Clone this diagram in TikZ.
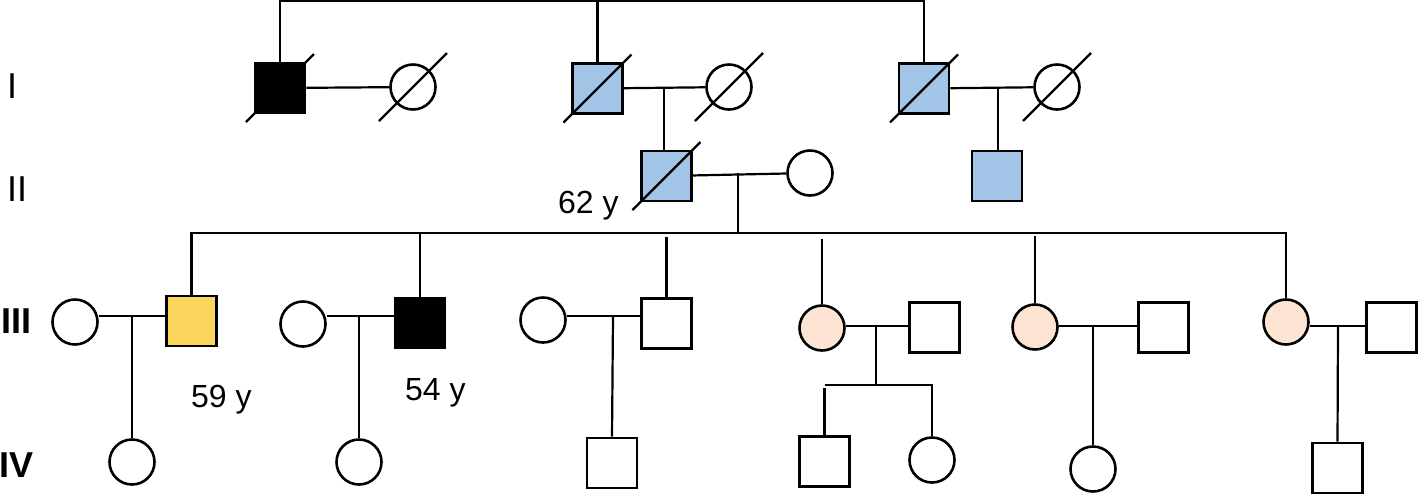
\documentclass[tikz,border=0pt]{standalone}
\usepackage{fontspec}
\setmainfont{Liberation Sans}
\usetikzlibrary{positioning}

\definecolor{affblue}{HTML}{A2C4E6}
\definecolor{affyellow}{HTML}{FBD55E}
\definecolor{affpink}{HTML}{FDE3D2}

\tikzset{
  male/.style={draw, rectangle, minimum size=25pt, inner sep=0pt, line width=1.3pt},
  female/.style={draw, circle, minimum size=22.5pt, inner sep=0pt, line width=1.3pt},
  slash/.style={line width=1.2pt},
  gen/.style={anchor=base west, inner sep=0pt, font=\fontsize{18pt}{18pt}\selectfont},
  age/.style={anchor=base west, inner sep=0pt, font=\fontsize{16pt}{16pt}\selectfont},
}
\newcommand{\deceased}[1]{\draw[slash] ([shift={(-34,34)}]#1.center) -- ([shift={(34,-34)}]#1.center);}

\begin{document}
\begin{tikzpicture}[x=0.5pt, y=-0.5pt, line width=1.1pt]

    \useasboundingbox (0,0) rectangle (1418,495);

    % Define nodes
    % generation I
    \node[male, fill=black]      (i1) at (280,88) {};
    \node[female]                (i2) at (413,87) {};
    \node[male, fill=affblue]    (i3) at (597.5,88.5) {};
    \node[female]                (i4) at (729,87) {};
    \node[male, fill=affblue]    (i5) at (924,88.5) {};
    \node[female]                (i6) at (1057,87) {};
    % generation II
    \node[male, fill=affblue]    (ii1) at (666.5,176) {};
    \node[female]                (ii2) at (810,173) {};
    \node[male, fill=affblue]    (ii3) at (997,176) {};
    % generation III
    \node[female]                (iii1) at (75,322) {};
    \node[male, fill=affyellow]  (iii2) at (191.5,321) {};
    \node[female]                (iii3) at (303,324) {};
    \node[male, fill=black]      (iii4) at (420,323) {};
    \node[female]                (iii5) at (543,320) {};
    \node[male]                  (iii6) at (666.5,323.5) {};
    \node[female, fill=affpink]  (iii7) at (822,328) {};
    \node[male]                  (iii8) at (934.5,327.5) {};
    \node[female, fill=affpink]  (iii9) at (1035,327) {};
    \node[male]                  (iii10) at (1163.5,327.5) {};
    \node[female, fill=affpink]  (iii11) at (1286,322) {};
    \node[male]                  (iii12) at (1391.5,327.5) {};
    % generation IV
    \node[female]                (iv1) at (132,462) {};
    \node[female]                (iv2) at (359,462) {};
    \node[male]                  (iv3) at (612,463) {};
    \node[male]                  (iv4) at (824.5,461.5) {};
    \node[female]                (iv5) at (932,460) {};
    \node[female]                (iv6) at (1093,469) {};
    \node[male]                  (iv7) at (1337.5,468) {};

    % Labels
    \node[gen] (gI)   at (6,98)    {I};
    \node[gen] (gII)  at (6,201)   {II};
    \node[gen] (gIII) at (0.5,333) {\bfseries III};
    \node[gen] (gIV)  at (-2,477)  {\bfseries IV};
    \node[age] (a62)  at (557,213) {62 y};
    \node[age] (a59)  at (190,407) {59 y};
    \node[age] (a54)  at (404,400) {54 y};

    % Marriage and sibship points
    \coordinate (top) at (598,1);
    \coordinate (m1)  at (664,88);
    \coordinate (m2)  at (998,88);
    \coordinate (m3)  at (738,173);
    \coordinate (sib) at (738,233);
    \coordinate (m4)  at (132,316);
    \coordinate (m5)  at (359,316);
    \coordinate (m6)  at (613,316);
    \coordinate (m7)  at (876,326);
    \coordinate (k7)  at (876,385);
    \coordinate (m8)  at (1093,326);
    \coordinate (m9)  at (1338,326);

    % Connect the nodes
    \draw (i1.north) |- (top) -| (i5.north);
    \draw (i3.north) -- (i3.north |- top);
    \draw (i1) -- (i2);
    \draw (i3) -- (i4);
    \draw (m1) -- (m1 |- ii1.north);
    \draw (i5) -- (i6);
    \draw (m2) -- (m2 |- ii3.north);
    \draw (ii1) -- (ii2);
    \draw (m3) -- (sib);
    \draw (iii2.north) |- (sib) -| (iii11.north);
    \draw (iii4.north) -- (iii4.north |- sib);
    \draw (iii6.north) -- ++(0,-60);
    \draw (iii7.north) -- ++(0,-65);
    \draw (iii9.north) -- ++(0,-67);
    \draw (iii1.east |- m4) -- (iii2.west |- m4);
    \draw (m4) -- (iv1.north);
    \draw (iii3.east |- m5) -- (iii4.west |- m5);
    \draw (m5) -- (iv2.north);
    \draw (iii5.east |- m6) -- (iii6.west |- m6);
    \draw (m6) -- (iv3.north);
    \draw (iii7.east |- m7) -- (iii8.west |- m7);
    \draw (m7) -- (k7);
    \draw (iv4.north |- k7) -- (iv5.north |- k7) -- (iv5.north);
    \draw (iv4.north) -- ++(0,-47);
    \draw (iii9.east |- m8) -- (iii10.west |- m8);
    \draw (m8) -- (iv6.north);
    \draw (iii11.east |- m9) -- (iii12.west |- m9);
    \draw (m9) -- (iv7.north);

    % Deceased
    \deceased{i1}
    \deceased{i2}
    \deceased{i3}
    \deceased{i4}
    \deceased{i5}
    \deceased{i6}
    \deceased{ii1}
  \end{tikzpicture}
\end{document}
